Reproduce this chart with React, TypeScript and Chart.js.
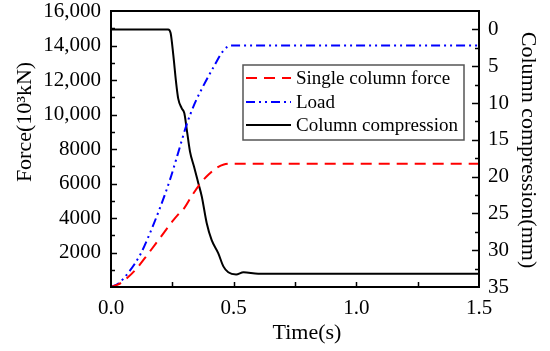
import React, { useEffect, useRef } from 'react';
import { Chart, registerables } from 'chart.js';
Chart.register(...registerables);

const FONT = '"Liberation Serif", "Times New Roman", serif';

const seriesLabels = ['Single column force', 'Load', 'Column compression'];

const forceTime = [0, 0.03, 0.06, 0.1, 0.15, 0.2, 0.25, 0.28, 0.3, 0.33, 0.37, 0.4, 0.43, 0.46, 0.5, 1.5];
const forceValues = [0, 150, 450, 1000, 1900, 2850, 3800, 4300, 4600, 5300, 6100, 6550, 6900, 7100, 7150, 7150];

const loadTime = [0, 0.03, 0.077, 0.12, 0.159, 0.2, 0.24, 0.27, 0.308, 0.34, 0.376, 0.42, 0.458, 0.49, 1.5];
const loadValues = [0, 200, 950, 1900, 3130, 4600, 6200, 7600, 9400, 10600, 11650, 12800, 13700, 14000, 14000];

const compTime = [0, 0.233, 0.243, 0.254, 0.265, 0.274, 0.288, 0.299, 0.308, 0.322, 0.338, 0.356, 0.37, 0.39, 0.41, 0.437, 0.458, 0.478, 0.51, 0.54, 0.6, 1.5];
const compValues = [0, 0, 0.5, 3.5, 7.1, 9.4, 10.7, 11.4, 13.4, 16.6, 18.6, 20.9, 22.7, 26.3, 28.6, 30.4, 32.2, 33.0, 33.3, 33.0, 33.2, 33.2];

const timeTicks = [0, 0.5, 1.0, 1.5];
const timeTickLabels = ['0.0', '0.5', '1.0', '1.5'];
const forceTicks = [2000, 4000, 6000, 8000, 10000, 12000, 14000, 16000];
const forceTickLabels = ['2000', '4000', '6000', '8000', '10,000', '12,000', '14,000', '16,000'];
const compTicks = [0, 5, 10, 15, 20, 25, 30, 35];
const compTickLabels = ['0', '5', '10', '15', '20', '25', '30', '35'];

const xTitle = 'Time(s)';
const yTitle = 'Force(10\u00B3kN)';
const y1Title = 'Column compression(mm)';

const RED_DASH = [11, 7];
const BLUE_DASH = [9, 4, 2, 4, 2, 4];

const toXY = (t: number[], v: number[]) => t.map((x, i) => ({ x, y: v[i] }));

const decorPlugin = {
  id: 'decor',
  afterDraw(chart: any) {
    const ctx = chart.ctx as CanvasRenderingContext2D;
    const { left, right, top, bottom } = chart.chartArea;
    const xs = chart.scales.x;
    const ys = chart.scales.y;
    const y1 = chart.scales.y1;
    ctx.save();
    ctx.strokeStyle = '#000';
    ctx.lineWidth = 1.5;
    ctx.setLineDash([]);
    ctx.beginPath();
    for (let v = 0.25; v < 1.5; v += 0.25) {
      const px = Math.round(xs.getPixelForValue(v)) + 0.5;
      ctx.moveTo(px, bottom);
      ctx.lineTo(px, bottom - 5);
    }
    for (let v = 1000; v < 16000; v += 1000) {
      const py = Math.round(ys.getPixelForValue(v)) + 0.5;
      const len = v % 2000 === 0 ? 6 : 4;
      ctx.moveTo(left, py);
      ctx.lineTo(left + len, py);
    }
    for (let v = 0; v < 35; v += 2.5) {
      const py = Math.round(y1.getPixelForValue(v)) + 0.5;
      const len = v % 5 === 0 ? 7 : 4;
      ctx.moveTo(right, py);
      ctx.lineTo(right - len, py);
    }
    ctx.stroke();
    ctx.lineWidth = 2;
    ctx.strokeRect(left, top, right - left, bottom - top);

    const lx = 243, ly = 65, lw = 221, lh = 75;
    ctx.fillStyle = '#fff';
    ctx.fillRect(lx, ly, lw, lh);
    ctx.lineWidth = 1.5;
    ctx.strokeStyle = '#555';
    ctx.strokeRect(lx, ly, lw, lh);
    const rows = [78, 102, 125];
    chart.data.datasets.forEach((ds: any, i: number) => {
      const y = rows[i];
      ctx.beginPath();
      ctx.strokeStyle = ds.borderColor;
      ctx.lineWidth = 2;
      ctx.setLineDash(ds.borderDash || []);
      ctx.moveTo(246, y);
      ctx.lineTo(291, y);
      ctx.stroke();
      ctx.setLineDash([]);
      ctx.fillStyle = '#000';
      ctx.font = '19px ' + FONT;
      ctx.textBaseline = 'middle';
      ctx.textAlign = 'left';
      ctx.fillText(ds.label, 296, y + 1);
    });

    ctx.fillStyle = '#000';
    ctx.font = '22px ' + FONT;
    ctx.textAlign = 'center';
    ctx.textBaseline = 'middle';
    ctx.fillText(xTitle, 307, 333);
    ctx.save();
    ctx.translate(25, 122);
    ctx.rotate(-Math.PI / 2);
    ctx.fillText(yTitle, 0, 0);
    ctx.restore();
    ctx.save();
    ctx.translate(528, 150);
    ctx.rotate(Math.PI / 2);
    ctx.fillText(y1Title, 0, 0);
    ctx.restore();
    ctx.restore();
  },
};

const fitY = (w: number) => (s: any) => {
  s.width = w;
  s.paddingTop = 0;
  s.paddingBottom = 0;
};

export default function App() {
  const ref = useRef<HTMLCanvasElement>(null);
  useEffect(() => {
    if (!ref.current) return;
    const tickFont = { family: FONT, size: 21 };
    const chart = new Chart(ref.current, {
      type: 'line',
      data: {
        datasets: [
          {
            label: seriesLabels[0],
            data: toXY(forceTime, forceValues),
            borderColor: '#ff0000',
            borderDash: RED_DASH,
            borderWidth: 2,
            pointRadius: 0,
            cubicInterpolationMode: 'monotone',
            yAxisID: 'y',
          },
          {
            label: seriesLabels[1],
            data: toXY(loadTime, loadValues),
            borderColor: '#0000ff',
            borderDash: BLUE_DASH,
            borderWidth: 2,
            pointRadius: 0,
            cubicInterpolationMode: 'monotone',
            yAxisID: 'y',
          },
          {
            label: seriesLabels[2],
            data: toXY(compTime, compValues),
            borderColor: '#000000',
            borderWidth: 2,
            pointRadius: 0,
            cubicInterpolationMode: 'monotone',
            yAxisID: 'y1',
          },
        ],
      },
      options: {
        responsive: false,
        animation: false,
        devicePixelRatio: 1,
        layout: { padding: { top: 11, left: 0, right: 0, bottom: 0 } },
        plugins: { legend: { display: false }, tooltip: { enabled: false } },
        scales: {
          x: {
            type: 'linear',
            min: 0,
            max: 1.5,
            afterBuildTicks: (s: any) => { s.ticks = timeTicks.map((value) => ({ value })); },
            afterFit: (s: any) => { s.height = 64; s.paddingLeft = 0; s.paddingRight = 0; },
            ticks: {
              callback: (_v: any, i: number) => timeTickLabels[i],
              font: tickFont,
              color: '#000',
              padding: 9,
              maxRotation: 0,
              autoSkip: false,
            },
            grid: { display: false, drawTicks: false },
            border: { display: false },
          },
          y: {
            type: 'linear',
            position: 'left',
            min: 0,
            max: 16000,
            afterBuildTicks: (s: any) => { s.ticks = forceTicks.map((value) => ({ value })); },
            afterFit: fitY(111),
            ticks: {
              callback: (_v: any, i: number) => forceTickLabels[i],
              font: tickFont,
              color: '#000',
              padding: 10,
              autoSkip: false,
            },
            grid: { display: false, drawTicks: false },
            border: { display: false },
          },
          y1: {
            type: 'linear',
            position: 'right',
            min: -2.5,
            max: 35,
            reverse: true,
            afterBuildTicks: (s: any) => { s.ticks = compTicks.map((value) => ({ value })); },
            afterFit: fitY(71),
            ticks: {
              callback: (_v: any, i: number) => compTickLabels[i],
              font: tickFont,
              color: '#000',
              padding: 9,
              autoSkip: false,
            },
            grid: { display: false, drawTicks: false },
            border: { display: false },
          },
        },
      },
      plugins: [decorPlugin],
    } as any);
    return () => chart.destroy();
  }, []);
  return (
    <div style={{ position: 'fixed', left: 0, top: 0, width: 550, height: 351, background: '#fff' }}>
      <canvas ref={ref} width={550} height={351} />
    </div>
  );
}
